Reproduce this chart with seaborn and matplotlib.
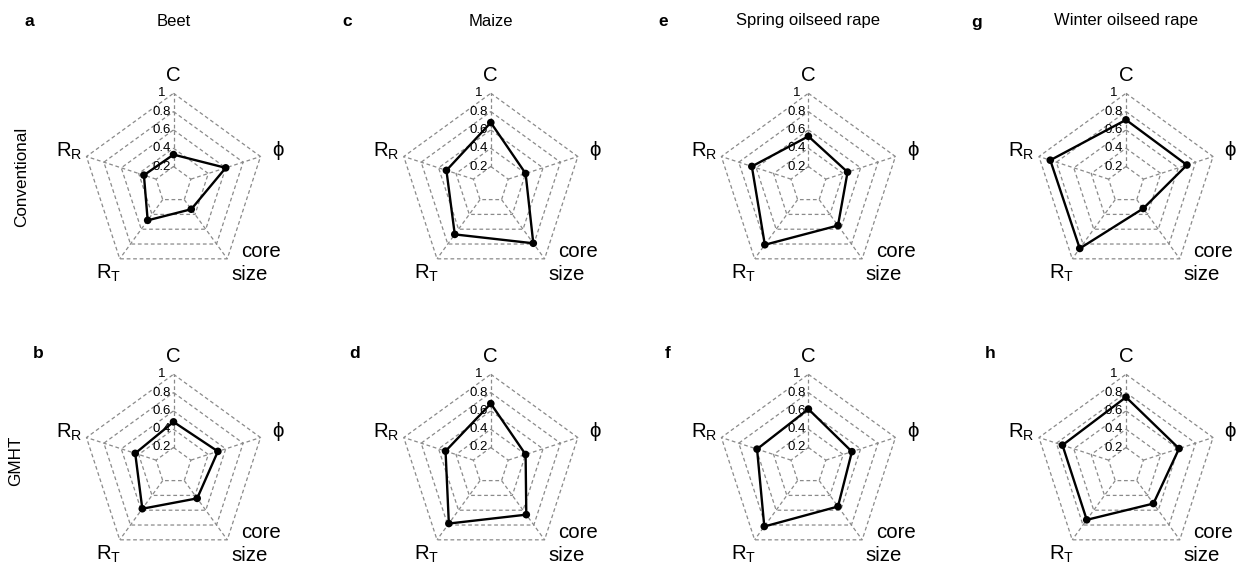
import numpy as np
import pandas as pd
import matplotlib
matplotlib.use("Agg")
import matplotlib.pyplot as plt
import seaborn as sns

# Radar axes, clockwise from the top
spokes = ["C", "phi", "core size", "R_T", "R_R"]
crops = ["Beet", "Maize", "Spring oilseed rape", "Winter oilseed rape"]
systems = ["Conventional", "GMHT"]
ring_levels = [0.2, 0.4, 0.6, 0.8, 1.0]
ring_labels = ["0.2", "0.4", "0.6", "0.8", "1"]
panel_letters = [["a", "c", "e", "g"], ["b", "d", "f", "h"]]

# Scaled scores, order: C, phi, core size, R_T, R_R
beet_conv = [0.33, 0.60, 0.33, 0.48, 0.34]
maize_conv = [0.68, 0.40, 0.79, 0.67, 0.51]
spring_conv = [0.53, 0.45, 0.55, 0.81, 0.65]
winter_conv = [0.71, 0.70, 0.32, 0.86, 0.87]
beet_gmht = [0.48, 0.51, 0.44, 0.58, 0.44]
maize_gmht = [0.68, 0.40, 0.66, 0.78, 0.52]
spring_gmht = [0.62, 0.50, 0.55, 0.82, 0.59]
winter_gmht = [0.75, 0.61, 0.51, 0.73, 0.73]

scores = [[beet_conv, maize_conv, spring_conv, winter_conv],
          [beet_gmht, maize_gmht, spring_gmht, winter_gmht]]

sns.set_theme(style="white")
plt.rcParams["font.family"] = ["Liberation Sans", "DejaVu Sans"]
plt.rcParams["text.color"] = "black"
plt.rcParams["mathtext.fontset"] = "custom"
plt.rcParams["mathtext.rm"] = "Liberation Sans"
plt.rcParams["mathtext.it"] = "Liberation Sans:italic"

W, H = 1248, 569
fig = plt.figure(figsize=(W / 100, H / 100), dpi=100)

theta = np.deg2rad(90 - 72 * np.arange(len(spokes)))
ux, uy = np.cos(theta), np.sin(theta)

R_PX = 91.5          # outer ring radius in pixels
BOX = 300            # axes box size in pixels
col_cx = [173.5, 490.8, 808.4, 1126.0]
row_cy = [184.8, 465.8]

grid_kw = dict(color="#8a8a8a", lw=0.9, ls=(0, (3.0, 2.2)))
axis_names = ["C", "ϕ", None, r"R$_\mathrm{T}$", r"R$_\mathrm{R}$"]
NAME_FS = 14.7

for r, system in enumerate(systems):
    for c, crop in enumerate(crops):
        cx, cy = col_cx[c], row_cy[r]
        ax = fig.add_axes([(cx - BOX / 2) / W, (H - cy - BOX / 2) / H,
                           BOX / W, BOX / H])
        lim = BOX / 2 / R_PX
        ax.set_xlim(-lim, lim)
        ax.set_ylim(-lim, lim)
        ax.set_aspect("equal")
        ax.axis("off")

        # dashed pentagon rings and spokes
        for lv in ring_levels:
            ax.plot(np.append(ux, ux[0]) * lv, np.append(uy, uy[0]) * lv, **grid_kw)
        for k in range(len(spokes)):
            ax.plot([ux[k] * ring_levels[0], ux[k]], [uy[k] * ring_levels[0], uy[k]], **grid_kw)

        # ring value labels along the top spoke
        for lv, lab in zip(ring_levels, ring_labels):
            ax.text(-0.13, lv, lab, ha="center", va="center", fontsize=9.5, color="black")

        # the data polygon
        vals = np.array(scores[r][c])
        df = pd.DataFrame({"x": vals * ux, "y": vals * uy})
        closed = pd.concat([df, df.iloc[[0]]], ignore_index=True)
        sns.lineplot(data=closed, x="x", y="y", sort=False, estimator=None,
                     color="black", lw=1.7, ax=ax)
        sns.scatterplot(data=df, x="x", y="y", color="black", s=30,
                        edgecolor="none", ax=ax, zorder=5)
        ax.set_xlabel("")
        ax.set_ylabel("")

        # spoke names
        for k, name in enumerate(axis_names):
            if name is None:
                continue
            ax.text(1.2 * ux[k], 1.2 * uy[k], name, ha="center", va="center",
                    fontsize=NAME_FS, clip_on=False)
        ax.text(0.955, -0.73, "core", ha="center", va="center", fontsize=NAME_FS, clip_on=False)
        ax.text(0.827, -0.985, "size", ha="center", va="center", fontsize=NAME_FS, clip_on=False)

# column titles
for c, crop in enumerate(crops):
    fig.text(col_cx[c] / W, 1 - 21 / H, crop, ha="center", va="center", fontsize=12)

# panel letters
letter_pos = [[(29, 21), (347, 22), (663, 22), (977, 22)],
              [(38, 353), (355, 353), (668, 353), (990, 353)]]
for r in range(2):
    for c in range(4):
        x, y = letter_pos[r][c]
        fig.text(x / W, 1 - y / H, panel_letters[r][c], ha="center", va="center",
                 fontsize=12.5, fontweight="bold")

# row labels
fig.text(22 / W, 1 - 177 / H, systems[0], rotation=90, ha="center", va="center", fontsize=12.3)
fig.text(16 / W, 1 - 461 / H, systems[1], rotation=90, ha="center", va="center", fontsize=12.3)

fig.savefig("out.png", dpi=100)
